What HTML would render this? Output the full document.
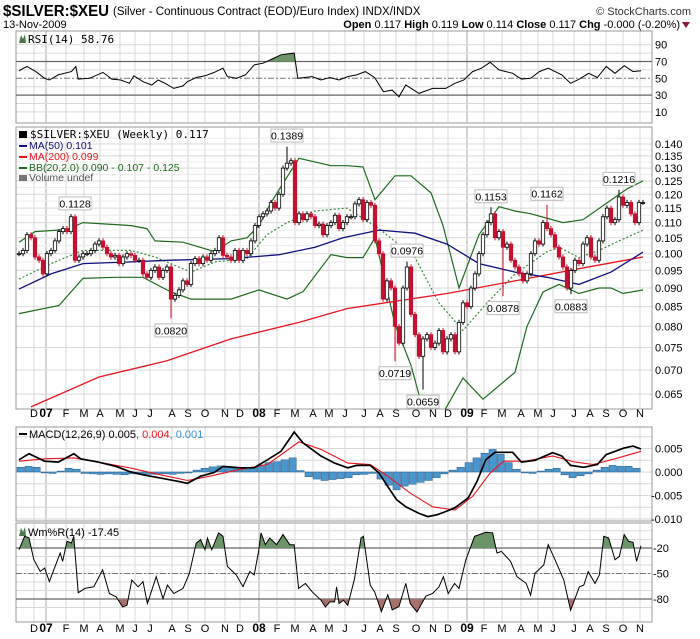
<!DOCTYPE html>
<html><head><meta charset="utf-8">
<style>
html,body{margin:0;padding:0;background:#fff;}
svg{display:block;font-family:"Liberation Sans","DejaVu Sans",sans-serif;}
.t{font-size:11px;fill:#000;}
</style></head>
<body>
<svg id="chart" width="700" height="639" viewBox="0 0 700 639" xmlns="http://www.w3.org/2000/svg">
  <g>
    <text x="3" y="16" font-size="16" font-weight="bold" textLength="106" lengthAdjust="spacingAndGlyphs">$SILVER:$XEU</text>
    <text x="113" y="15" font-size="11.5">(Silver - Continuous Contract (EOD)/Euro Index)  INDX/INDX</text>
    <text x="691" y="15" font-size="11" fill="#333" text-anchor="end">© StockCharts.com</text>
    <text x="3" y="28" font-size="11">13-Nov-2009</text>
    <text x="680" y="28" font-size="11" text-anchor="end"><tspan font-weight="bold">Open</tspan> 0.117 <tspan font-weight="bold">High</tspan> 0.119 <tspan font-weight="bold">Low</tspan> 0.114 <tspan font-weight="bold">Close</tspan> 0.117 <tspan font-weight="bold">Chg</tspan> -0.000 (-0.20%)</text>
    <polygon points="682,22 690,22 686,28" fill="#8b1a3a"/>
  </g>
  <g id="grid"></g>
  <g id="marks"></g>
  <g id="labels"></g>
</svg>
<script>
// ---------- DATA ----------
const closes = [.100,.101,.106,.105,.099,.098,.094,.100,.101,.104,
.107,.108,.107,.112,.098,.099,.100,.100,.101,.103,
.104,.102,.100,.099,.0995,.097,.099,.100,.0995,.098,
.098,.094,.093,.095,.096,.093,.095,.096,.087,.088,
.0895,.092,.091,.097,.0985,.097,.099,.098,.100,.101,
.105,.0995,.099,.098,.101,.098,.101,.100,.104,.109,
.112,.113,.114,.117,.115,.120,.130,.132,.133,.110,
.113,.111,.113,.112,.109,.1095,.106,.109,.110,.1125,
.108,.110,.112,.112,.1165,.118,.111,.117,.116,.104,
.100,.087,.092,.090,.080,.076,.090,.096,.083,.078,
.073,.077,.078,.075,.076,.079,.074,.077,.078,.074,
.081,.086,.085,.090,.094,.100,.106,.110,.113,.105,
.107,.102,.103,.098,.096,.094,.092,.094,.100,.104,
.103,.110,.108,.106,.102,.099,.096,.090,.095,.098,
.097,.103,.105,.099,.098,.104,.112,.115,.110,.111,
.119,.116,.117,.113,.110,.117,.117];
const annWeeks = [14, 67, 38, 97, 94, 101, 118, 132, 121, 138, 150];
const annValues = [0.1128, 0.1389, 0.0820, 0.0976, 0.0719, 0.0659, 0.1153, 0.1162, 0.0878, 0.0883, 0.1216];
const annIsHigh = [1,1,0,1,0,0,1,1,0,0,1];

const ma50Weeks = [0,8,16,28,37,53,65,74,81,90,99,107,115,124,132,140,148,156];
const ma50Values = [.0897,.094,.097,.0975,.098,.0985,.0997,.102,.105,.1075,.1065,.103,.097,.0945,.093,.091,.0945,.1005];
const ma200Weeks = [3,20,37,53,70,82,107,124,140,156];
const ma200Values = [.0625,.0685,.072,.077,.081,.0845,.0885,.092,.0955,.099];
const bbUpWeeks = [0,4,12,16,28,32,34,41,49,53,57,60,63,67,70,78,82,86,89,94,98,103,106,109,110,115,120,124,128,136,141,152,156];
const bbUpValues = [.1036,.107,.1077,.110,.109,.108,.104,.1036,.1006,.104,.105,.109,.117,.1265,.134,.131,.131,.1305,.118,.127,.127,.1205,.109,.0945,.090,.106,.1155,.114,.113,.110,.111,.122,.125];
const bbMidWeeks = [0,8,16,28,34,43,49,57,62,67,74,82,90,99,105,111,117,124,132,135,140,145,150,156];
const bbMidValues = [.0925,.097,.101,.101,.099,.0945,.0975,.0985,.106,.110,.114,.115,.108,.0988,.086,.079,.086,.094,.1006,.102,.0988,.101,.104,.1075];
const bbLowWeeks = [0,10,16,24,31,38,43,53,60,67,71,78,82,86,89,94,98,101,105,111,116,124,127,131,135,140,145,148,151,156];
const bbLowValues = [.0832,.0853,.0927,.093,.093,.0889,.087,.087,.0895,.087,.089,.0997,.0988,.0988,.105,.0805,.071,.062,.060,.0683,.064,.0695,.080,.0889,.091,.0885,.090,.090,.0885,.0895];

const rsiWeeks = [0,2,4.2,6.4,7.6,9.8,13.1,14.2,14.8,17.6,21,23.2,25.4,27.6,28.7,31,33.2,34.8,36.5,38.7,41,42.1,44.3,46.5,48.8,51,52.1,54.3,56.6,58.8,61,63.3,65.5,68.8,69.7,73.3,75.5,77.7,80,82.2,84.4,86.6,88.9,91.1,93.3,95,96.7,100,103.4,106.7,109,111.2,113.4,115.6,117.8,120,123.4,125.6,127.9,130.1,132.3,135.7,137.9,140.1,142.4,144.6,146.8,149,151.3,153.5,155.5];
const rsiValues = [59,64,58,50,48,54,58,64,49,50,57,49,48,44,53,46,42,48,44,38,41,46,51,53,57,62,52,50,54,66,68,73,78,80,50,52,48,51,48,52,54,58,51,34,36,28,42,32,38,38,44,48,58,62,69,60,56,49,50,58,62,54,44,49,56,51,64,56,65,58,59];

const macdWeeks = [0,2.5,6.4,9.8,13.7,15.4,19.8,24.3,27.6,31,35.4,39.9,42.1,45.4,48.8,51,55.5,58.8,62.1,65.5,68.8,71,75.5,78.9,82.2,84.4,87.8,90,92.2,94.4,96.7,100,102.2,104.5,106.7,109,112.3,114.5,116.7,119,123.4,125.6,129,133.4,135.7,137.9,141.2,144.6,146.8,151.3,153.5,155.5];
const macdValues = [2.6,3.9,2.3,2.1,3.9,2.8,2.1,1.2,0.1,-0.6,-1.3,-2.0,-2.4,-0.9,-0.1,1.2,0.9,0.9,2.6,4.4,8.5,6.2,3.4,1.9,0.9,1.4,1.4,-0.2,-3.1,-5.9,-7.4,-8.8,-9.5,-9.1,-8.4,-7.6,-5.5,-2.0,2.6,4.2,4.2,2.1,2.5,4.1,3.4,1.4,1.0,1.6,3.7,5.1,5.5,4.9];
const signalWeeks = [0,6.4,13.7,19.8,27.6,35.4,42.1,47.7,55.5,62.1,70,75.5,82.2,87.8,92.2,97.8,103.4,109,113.4,117.8,121.2,126.7,133.4,139,143.5,149,155.5];
const signalValues = [2.3,2.8,3.0,2.1,0.9,-0.6,-1.8,-0.9,0.6,1.6,6.4,4.8,1.9,1.6,-0.9,-4.5,-7.4,-8.1,-5.2,-0.2,2.3,2.3,3.4,2.1,1.6,2.8,4.4];
const histValues = [1.0,1.2,1.0,-0.2,-0.3,0.2,0.8,0.6,-0.3,-0.4,-0.5,-0.4,-0.5,-0.6,-0.4,-0.5,-0.5,-0.5,-0.4,-0.5,-0.3,-0.2,0.4,0.8,1.1,1.3,1.0,0.8,0.6,1.0,1.5,2.0,2.2,2.6,3.0,0.3,-1.0,-1.5,-1.8,-1.6,-1.4,-1.2,-0.6,-0.5,-0.3,-1.5,-2.8,-3.8,-3.0,-2.6,-2.2,-1.8,-1.2,-0.4,0.4,1.0,2.0,3.0,4.0,4.8,3.8,2.0,0.6,-0.2,-0.3,0.2,0.6,0.8,-0.6,-1.2,-0.8,-0.4,0.4,1.0,1.4,1.2,1.2,0.8];

const wprWeeks = [0,1.4,2.5,3.7,5.3,6.4,7.6,8.7,10.3,10.9,12,13.1,13.7,14.8,16.5,18.7,20.9,22.6,24.3,25.9,27,28.2,29.8,31,32.1,34.3,36,37.1,38.7,41,42.6,44.3,45.4,46.5,47.1,48.2,49.9,51,52.1,54.3,56,57.7,58.8,59.9,60.5,61.6,62.7,64.4,66,67.7,68.8,69.9,71.6,73.3,75.5,76.6,77.7,78.9,79.4,80,81.1,82.2,83.9,85.5,86.1,87.8,88.9,90.6,92.2,93.3,95,96.7,97.8,99.5,101.7,103.4,105,106.1,107.3,108.9,110,111.7,113.9,116.7,118.4,119.5,120.6,122.9,124.5,126.8,127.9,129,131.2,132.3,134,136.2,137.9,140.1,141.2,142.3,144,145.1,146.2,147.4,149,150.1,151.3,152.4,153.5,154.4,155.5];
const wprValues = [-22,-6.2,-8.1,-33.7,-47.5,-43.6,-59.4,-45.6,-26,-35.8,-12.1,-14.1,-6.2,-72.6,-67.5,-65.6,-45.8,-73.5,-77.5,-89.3,-87.4,-57.7,-65.6,-59.6,-85.4,-53.8,-79.5,-63.6,-73.5,-67.5,-49.8,-14.2,-10.2,-22,-8.2,-22,-2.2,-6.2,-41.7,-51.6,-65.4,-47.6,-51.6,-24,-2.2,-16.1,-8.2,-16.1,-4.2,-16.1,-16.1,-67.5,-61.6,-71.5,-81.4,-89.3,-83.4,-83.4,-65.6,-85.4,-81.4,-87.4,-55.8,-8.2,-6.2,-63.6,-71.5,-94.7,-75,-92.8,-88.8,-61.6,-85.4,-95.3,-76.7,-73.5,-65.6,-53.8,-73.5,-61.6,-67.5,-34,-6.2,-1.5,-2.2,-25.9,-24,-35.8,-53.8,-61.6,-75.5,-49.8,-39.9,-16.1,-33.8,-57.7,-93.3,-65.6,-63.6,-47.8,-61.6,-51.6,-6.2,-8.2,-33.8,-29.9,-4.2,-12.1,-13.3,-35.8,-17.45];

const monthLabels = ["D","07","F","M","A","M","J","J","A","S","O","N","D","08","F","M","A","M","J","J","A","S","O","N","D","09","F","M","A","M","J","J","A","S","O","N"];
const monthWeeks = [3.75,6.75,11.75,16.25,20.25,25.25,29,32.75,38.25,42.25,46.5,51.5,55.25,60,64.5,69,73.5,77.5,81.5,86.25,90.25,94.25,99.25,103.5,107.25,112,116.25,120.75,125.5,129.75,133.5,138.75,142.75,146.75,151,155.25];
const priceTicks = [0.140,0.135,0.130,0.125,0.120,0.115,0.110,0.105,0.100,0.095,0.090,0.085,0.080,0.075,0.070,0.065];
const rsiTicks = [90,70,50,30,10];
const macdTicks = [5,0,-5,-10];
const wprTicks = [-20,-50,-80];

// ---------- SCALES ----------
const X0=16, X1=652;
const P = {rsi:[31,123], main:[127,409], macd:[427,521], wpr:[523,622]};
const xs = w => 19 + w*4.0;
const yPrice = p => 144 + 326*Math.log(0.14/p);
const yRsi = v => 78.3 - (v-50)*0.84;
const yMacd = v => 472 - v*4.7;
const yWpr = v => 548 - (v+20)*0.85;

const NS="http://www.w3.org/2000/svg";
function mk(tag, attrs, parent){const e=document.createElementNS(NS,tag);for(const k in attrs)e.setAttribute(k,attrs[k]);parent.appendChild(e);return e;}
const grid=document.getElementById('grid'), marks=document.getElementById('marks'), labels=document.getElementById('labels');
const svg=document.getElementById('chart');

const defs=mk('defs',{},svg);
for(const k in P){const c=mk('clipPath',{id:'clip-'+k},defs);mk('rect',{x:X0,y:P[k][0],width:X1-X0,height:P[k][1]-P[k][0]},c);}
const cRsiHi=mk('clipPath',{id:'clip-rsi-hi'},defs);mk('rect',{x:X0,y:P.rsi[0],width:X1-X0,height:yRsi(70)-P.rsi[0]},cRsiHi);
const cWHi=mk('clipPath',{id:'clip-wpr-hi'},defs);mk('rect',{x:X0,y:P.wpr[0],width:X1-X0,height:yWpr(-20)-P.wpr[0]},cWHi);
const cWLo=mk('clipPath',{id:'clip-wpr-lo'},defs);mk('rect',{x:X0,y:yWpr(-80),width:X1-X0,height:P.wpr[1]-yWpr(-80)},cWLo);

function hline(y,stroke,dash,w){const l=mk('line',{x1:X0,x2:X1,y1:y,y2:y,stroke:stroke,'stroke-width':w||1},grid);if(dash)l.setAttribute('stroke-dasharray',dash);return l;}
for(const k in P){
  const [t,b]=P[k];
  monthWeeks.forEach((w,i)=>{
    const yr=/\d/.test(monthLabels[i]);
    const l=mk('line',{x1:xs(w),x2:xs(w),y1:t,y2:b,stroke:yr?'#aaa':'#d9d9d9','stroke-width':1},grid);
    
    
  });
}
for(let v=10;v<=90;v+=10){ if(v!==70&&v!==30&&v!==50) hline(yRsi(v),'#d9d9d9'); }
priceTicks.forEach(p=>hline(yPrice(p),'#d9d9d9'));
for(let v=0.0975;v<0.15;v+=0.005) hline(yPrice(v),'#ececec');
for(let v=-12.5;v<=7.5;v+=2.5) hline(yMacd(v),'#d9d9d9');
for(let v=-90;v<=-10;v+=10) hline(yWpr(v),'#d9d9d9');
for(const k in P){
  const r=mk('rect',{x:X0,y:P[k][0],width:X1-X0,height:P[k][1]-P[k][0],fill:'none',stroke:'#999','stroke-width':1},grid);
  
  
}

function linePath(ws,vs,yf){return ws.map((w,i)=>(i?'L':'M')+xs(w).toFixed(1)+','+yf(vs[i]).toFixed(1)).join('');}
function areaPath(ws,vs,yf,base){return linePath(ws,vs,yf)+'L'+xs(ws[ws.length-1]).toFixed(1)+','+base+'L'+xs(ws[0]).toFixed(1)+','+base+'Z';}

// ---------- RSI ----------
const rsiG=mk('g',{'clip-path':'url(#clip-rsi)'},marks);


const rsiFill=mk('path',{d:areaPath(rsiWeeks,rsiValues,yRsi,yRsi(70)),fill:'#6b9468','clip-path':'url(#clip-rsi-hi)'},rsiG);


hline(yRsi(70),'#666',null,1.3);
hline(yRsi(30),'#666',null,1.3);
hline(yRsi(50),'#777','6,2,2,2',1);
const rsiLine=mk('path',{d:linePath(rsiWeeks,rsiValues,yRsi),fill:'none',stroke:'#000','stroke-width':1},rsiG);



// ---------- MAIN ----------
const mainG=mk('g',{'clip-path':'url(#clip-main)'},marks);


function addLine(ws,vs,stroke,dash,name,width){
  const p=mk('path',{d:linePath(ws,vs,yPrice),fill:'none',stroke:stroke,'stroke-width':width||1.2},mainG);
  if(dash)p.setAttribute('stroke-dasharray',dash);
  
  
}
addLine(bbUpWeeks,bbUpValues,'#1e6b1e',null,'bollinger-upper-band');
addLine(bbLowWeeks,bbLowValues,'#1e6b1e',null,'bollinger-lower-band');
addLine(bbMidWeeks,bbMidValues,'#3a8a3a','2,2','bollinger-middle-band');
addLine(ma200Weeks,ma200Values,'#e8141e',null,'ma200-line',1.3);
addLine(ma50Weeks,ma50Values,'#101080',null,'ma50-line',1.3);

closes.forEach((c,i)=>{
  const o = i>0 ? closes[i-1] : c;
  let hi=Math.max(o,c)*1.008, lo=Math.min(o,c)*0.992;
  const ai=annWeeks.indexOf(i);
  if(ai>=0){ if(annIsHigh[ai]) hi=annValues[ai]; else lo=annValues[ai]; }
  const x=xs(i);
  const g=mk('g',{},mainG);
  
  
  const down=c<o;
  mk('line',{x1:x,x2:x,y1:yPrice(hi),y2:yPrice(lo),stroke:down?'#c8102e':'#000','stroke-width':1},g);
  const yt=yPrice(Math.max(o,c)), yb=yPrice(Math.min(o,c));
  mk('rect',{x:x-1.7,y:yt,width:3.4,height:Math.max(yb-yt,1),fill:down?'#c8102e':'#fff',stroke:down?'#c8102e':'#000','stroke-width':0.8},g);
});

annWeeks.forEach((w,i)=>{
  const x=xs(w), yv=yPrice(annValues[i]);
  const cy = annIsHigh[i] ? yv-11 : yv+12;
  const g=mk('g',{},labels);
  
  
  mk('rect',{x:x-16,y:cy-6.5,width:32,height:13,fill:'#fff',stroke:'#bbb','stroke-width':1},g);
  const t=mk('text',{x:x,y:cy+4,'font-size':'10.5','text-anchor':'middle',fill:'#000'},g);
  t.textContent=annValues[i].toFixed(4);
});

// ---------- MACD ----------
const macdG=mk('g',{'clip-path':'url(#clip-macd)'},marks);


histValues.forEach((v,i)=>{
  const w=i*2, y0=yMacd(0), y1=yMacd(v);
  const r=mk('rect',{x:xs(w)-2,y:Math.min(y0,y1),width:7.2,height:Math.max(Math.abs(y1-y0),0.5),fill:'#4a96cf',stroke:'#1d5a8a','stroke-width':0.5},macdG);
  
  
});
const sig=mk('path',{d:linePath(signalWeeks,signalValues,yMacd),fill:'none',stroke:'#e8141e','stroke-width':1.1},macdG);


const mac=mk('path',{d:linePath(macdWeeks,macdValues,yMacd),fill:'none',stroke:'#000','stroke-width':1.7},macdG);



// ---------- W%R ----------
const wG=mk('g',{'clip-path':'url(#clip-wpr)'},marks);


const wHi=mk('path',{d:areaPath(wprWeeks,wprValues,yWpr,yWpr(-20)),fill:'#6b9468','clip-path':'url(#clip-wpr-hi)'},wG);


const wLo=mk('path',{d:areaPath(wprWeeks,wprValues,yWpr,yWpr(-80)),fill:'#a6706c','clip-path':'url(#clip-wpr-lo)'},wG);


hline(yWpr(-20),'#666',null,1.3);
hline(yWpr(-80),'#666',null,1.3);
hline(yWpr(-50),'#777','6,2,2,2',1);
const wl=mk('path',{d:linePath(wprWeeks,wprValues,yWpr),fill:'none',stroke:'#000','stroke-width':1},wG);



// ---------- LABELS ----------
function txt(x,y,s,attrs,name){const t=mk('text',Object.assign({x:x,y:y,'font-size':'11',fill:'#000'},attrs||{}),labels);t.textContent=s;return t;}
rsiTicks.forEach(v=>txt(655,yRsi(v)+4,String(v),{},'rsi-tick-label'));
priceTicks.forEach(p=>txt(655,yPrice(p)+4,p.toFixed(3),{},'price-tick-label'));
macdTicks.forEach(v=>txt(v<0?651:655,yMacd(v)+4,(v/1000).toFixed(3),{},'macd-tick-label'));
wprTicks.forEach(v=>txt(653,yWpr(v)+4,String(v),{},'wpr-tick-label'));
[417,632].forEach(y=>{
  monthLabels.forEach((m,i)=>{
    const yr=/\d/.test(m);
    txt(xs(monthWeeks[i]),y,m,{'text-anchor':'middle','font-weight':yr?'bold':'normal','font-size':yr?'12':'11'},'x-axis-month-label');
  });
});

txt(28,43,'RSI(14) 58.76',{'font-size':'11','font-family':'DejaVu Sans Mono, Liberation Mono, monospace'},'rsi-title');
mk('polygon',{points:'19,43 21,35 23,39 25,34 26,43',fill:'#4a7a4a'},labels);
txt(30,138,'$SILVER:$XEU (Weekly) 0.117',{'font-size':'11','font-family':'DejaVu Sans Mono, Liberation Mono, monospace'},'price-legend-title');
mk('rect',{x:19,y:131,width:8,height:7,fill:'#000'},labels);
mk('rect',{x:19,y:145,width:8,height:2,fill:'#101080'},labels);
txt(29,149,'MA(50) 0.101',{'font-size':'10.5',fill:'#101080'},'legend-ma50');
mk('rect',{x:19,y:156,width:8,height:2,fill:'#e8141e'},labels);
txt(29,160,'MA(200) 0.099',{'font-size':'10.5',fill:'#e8141e'},'legend-ma200');
mk('rect',{x:19,y:167,width:8,height:2,fill:'#1e6b1e'},labels);
txt(29,171,'BB(20,2.0) 0.090 - 0.107 - 0.125',{'font-size':'10.5',fill:'#1e6b1e'},'legend-bollinger');
mk('rect',{x:19,y:175,width:8,height:6,fill:'#777'},labels);
txt(29,181,'Volume undef',{'font-size':'10.5',fill:'#555'},'legend-volume');
mk('rect',{x:19,y:433,width:8,height:2,fill:'#000'},labels);
const mt=txt(29,438,'',{'font-size':'11'},'macd-title');
mt.innerHTML='MACD(12,26,9) 0.005<tspan fill="#e8141e">, 0.004</tspan><tspan fill="#3a8fcf">, 0.001</tspan>';
mk('polygon',{points:'19,536 21,528 23,532 25,527 26,536',fill:'#4a7a4a'},labels);
txt(28,536,'Wm%R(14) -17.45',{'font-size':'11'},'wpr-title');
</script>
</body></html>
